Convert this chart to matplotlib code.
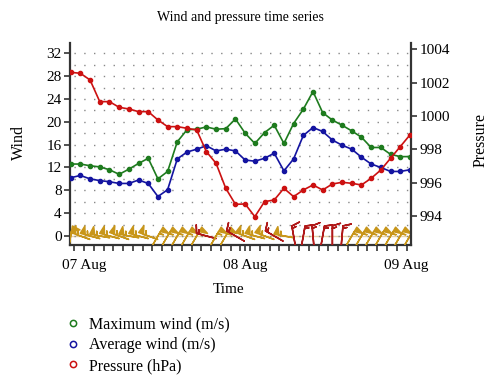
import numpy as np
import matplotlib
matplotlib.use("Agg")
import matplotlib.pyplot as plt
from matplotlib.lines import Line2D
from matplotlib.ticker import FixedLocator, MultipleLocator

plt.rcParams['font.family'] = ['Liberation Serif', 'DejaVu Serif']

# time in hours from 07 Aug 00:00
hours = np.linspace(-1.98, 48.5, 36)
max_wind = [12.6, 12.6, 12.3, 12.1, 11.6, 10.8, 11.7, 12.7, 13.6, 10.0,
            11.3, 16.5, 18.6, 18.7, 19.1, 18.7, 18.8, 20.5, 18.0, 16.2,
            18.1, 19.4, 16.2, 19.7, 22.2, 25.3, 21.6, 20.3, 19.4, 18.4,
            17.3, 15.5, 15.5, 14.3, 13.9, 13.9]
avg_wind = [10.2, 10.6, 10.0, 9.7, 9.5, 9.2, 9.2, 9.8, 9.2, 6.9,
            8.1, 13.5, 14.7, 15.2, 15.8, 14.9, 15.2, 14.9, 13.3, 13.1,
            13.6, 14.5, 11.4, 13.5, 17.6, 19.0, 18.3, 16.8, 15.9, 15.2,
            13.8, 12.6, 12.0, 11.3, 11.3, 11.6]
pressure = [1002.62, 1002.56, 1002.16, 1000.86, 1000.86, 1000.52, 1000.42, 1000.26, 1000.26, 999.76,
            999.36, 999.36, 999.26, 999.16, 997.86, 997.16, 995.66, 994.7, 994.72, 993.96,
            994.86, 994.96, 995.66, 995.16, 995.56, 995.86, 995.56, 995.92, 996.02, 995.96,
            995.86, 996.26, 996.76, 997.46, 998.16, 998.86]
# wind barbs: staff direction (deg, math convention), speed, colour group
barb_dir = [80, 160, 165, 170, 165, 160, 170, 165, 160, 60,
            60, 60, 60, 60, 165, 60, 60, 150, 160, 165,
            160, 150, 170, 100, 80, 95, 80, 90, 85, 60,
            60, 60, 60, 60, 60, 60]
barb_speed = [55, 55, 55, 55, 55, 55, 55, 55, 55, 55,
              55, 55, 55, 55, 15, 55, 55, 15, 55, 55,
              55, 15, 55, 15, 15, 15, 15, 15, 15, 55,
              55, 55, 55, 55, 55, 55]
barb_red = [14, 17, 21, 23, 24, 25, 26, 27, 28]
day_labels = ['07 Aug', '08 Aug', '09 Aug']

green, blue, red = '#1e7b1e', '#1414a0', '#cc1111'
gold, dred = '#c8961a', '#b01818'

fig = plt.figure(figsize=(5, 3.88), dpi=100)
ax = fig.add_axes([0.14, 0.3686, 0.682, 0.5198])
ax2 = ax.twinx()

ax.set_xlim(-2.08, 48.66)
ax.set_ylim(-1.58, 33.75)
ax2.set_ylim(992.26, 1004.36)

# dotted background grid
ax.yaxis.set_minor_locator(MultipleLocator(2))
step = 48 / 33
ax.xaxis.set_minor_locator(FixedLocator([-step + i * step for i in range(35)]))
ax.grid(which='both', axis='y', color='#888888', linestyle=(4.2, (1, 6.04)), linewidth=1)
ax.axhline(0, color='#e6d3a8', lw=1, zorder=1)

ax.plot(hours, max_wind, color=green, lw=1.2, marker='o', ms=3, zorder=3)
ax.plot(hours, avg_wind, color=blue, lw=1.2, marker='o', ms=3, zorder=3)
ax2.plot(hours, pressure, color=red, lw=1.2, marker='o', ms=3, zorder=3)

th = np.deg2rad(barb_dir)
u = -np.array(barb_speed) * np.cos(th)
v = -np.array(barb_speed) * np.sin(th)
bcol = [dred if i in barb_red else gold for i in range(len(hours))]
ax.barbs(hours, np.zeros(len(hours)), u, v, barbcolor=bcol, flagcolor=bcol,
         length=5.4, linewidth=1.1, pivot='middle', zorder=4)

ax.set_xticks([0, 24, 48])
ax.set_xticklabels(day_labels)
ax.set_yticks(range(0, 33, 4))
ax2.set_yticks(range(994, 1005, 2))

for a in (ax, ax2):
    for s in a.spines.values():
        s.set_color('#333333')
        s.set_linewidth(1.6)
    a.spines['top'].set_visible(False)
ax2.spines['left'].set_visible(False)
ax2.spines['bottom'].set_visible(False)
ax.spines['right'].set_visible(False)

ax.tick_params(axis='y', which='major', labelsize=11, length=4, width=1.2, color='#333333', pad=2)
ax.tick_params(axis='y', which='minor', length=0)
ax.tick_params(axis='x', which='both', labelsize=11, length=4, width=1.2, color='#333333', pad=6)
ax2.tick_params(axis='y', labelsize=11, length=4, width=1.2, color='#333333', pad=2)

ax.set_ylabel('Wind', fontsize=11.5)
ax.yaxis.set_label_coords(-0.125, 0.51)
ax2.set_ylabel('Pressure', fontsize=11.5)
ax2.yaxis.set_label_coords(1.18, 0.52)
ax.set_xlabel('Time', fontsize=11)
ax.xaxis.set_label_coords(0.466, -0.19)

fig.text(0.481, 0.956, 'Wind and pressure time series', ha='center', va='center', fontsize=10)

handles = [Line2D([], [], color=c, marker='o', ls='none', mfc='none', ms=4.5, mew=1.1)
           for c in (green, blue, red)]
fig.legend(handles, ['Maximum wind (m/s)', 'Average wind (m/s)', 'Pressure (hPa)'],
           loc='upper left', bbox_to_anchor=(0.118, 0.205), frameon=False, fontsize=11.5,
           handlelength=0.8, handletextpad=0.6, labelspacing=0.3, borderpad=0)

fig.savefig('out.png', dpi=100)
